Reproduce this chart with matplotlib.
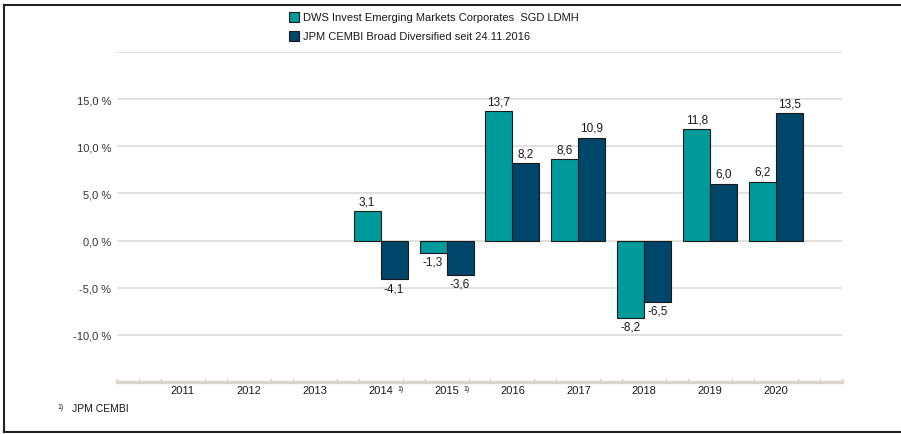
import numpy as np
import matplotlib.pyplot as plt
from matplotlib.lines import Line2D
from matplotlib.patches import Rectangle

plt.rcParams['font.family'] = ['Liberation Sans', 'DejaVu Sans']

# data
years = ['2011', '2012', '2013', '2014', '2015', '2016', '2017', '2018', '2019', '2020']
dws = [np.nan, np.nan, np.nan, 3.1, -1.3, 13.7, 8.6, -8.2, 11.8, 6.2]
jpm = [np.nan, np.nan, np.nan, -4.1, -3.6, 8.2, 10.9, -6.5, 6.0, 13.5]
footnote_years = ['2014', '2015']
series_names = ['DWS Invest Emerging Markets Corporates  SGD LDMH',
                'JPM CEMBI Broad Diversified seit 24.11.2016']

teal = '#009a9c'
navy = '#00456a'
grid_col = '#dddbd5'
axis_col = '#d9d5cc'

fig = plt.figure(figsize=(9.01, 4.35), dpi=100)
ax = fig.add_axes([117 / 901, 1 - 383 / 435, (842 - 117) / 901, (383 - 53) / 435])

x = np.arange(len(years))
w = 0.41
b1 = ax.bar(x - w / 2, dws, w, color=teal, edgecolor='#1a1a1a', linewidth=0.8, zorder=3)
b2 = ax.bar(x + w / 2, jpm, w, color=navy, edgecolor='#1a1a1a', linewidth=0.8, zorder=3)

def fmt(v):
    return f'{v:.1f}'.replace('.', ',')

for bars, vals in ((b1, dws), (b2, jpm)):
    for rect, v in zip(bars, vals):
        if np.isnan(v):
            continue
        cx = rect.get_x() + rect.get_width() / 2
        if v >= 0:
            ax.annotate(fmt(v), (cx, v), xytext=(0, 3), textcoords='offset points',
                        ha='center', va='bottom', fontsize=8.5, color='#1a1a1a')
        else:
            ax.annotate(fmt(v), (cx, v), xytext=(0, -2), textcoords='offset points',
                        ha='center', va='top', fontsize=8.5, color='#1a1a1a')

ax.set_xlim(-1, 10)
ax.set_ylim(-15, 20)

yt = np.arange(-10, 25, 5)
ax.set_yticks(yt)
ax.set_yticklabels([fmt(v) + ' %' if v < 20 else '' for v in yt], fontsize=8, color='#333333')
ax.grid(axis='y', color=grid_col, linewidth=1.2, zorder=0)
ax.tick_params(axis='y', length=0, pad=4)

ax.set_xticks(x)
ax.set_xticklabels(years, fontsize=8, color='#1a1a1a')
ax.tick_params(axis='x', which='major', length=0, pad=2)
minor = [k / 3 for k in range(-3, 31) if k % 3 != 0 or k in (-3, 30)]
ax.set_xticks(minor, minor=True)
ax.tick_params(axis='x', which='minor', direction='in', length=3, width=1, color=axis_col)

for s in ['top', 'right', 'left']:
    ax.spines[s].set_visible(False)
ax.spines['bottom'].set_color(axis_col)
ax.spines['bottom'].set_linewidth(2.5)

for fy in footnote_years:
    i = years.index(fy)
    ax.annotate('1)', (i + 0.3, -15), xytext=(0, -2), textcoords='offset points',
                ha='center', va='top', fontsize=5, color='#1a1a1a', annotation_clip=False)

# legend
for row, (name, col) in enumerate(zip(series_names, [teal, navy])):
    ycen = 1 - (18 + row * 19) / 435
    fig.patches.append(Rectangle((289 / 901, ycen - 5 / 435), 10 / 901, 10 / 435,
                                 transform=fig.transFigure, facecolor=col,
                                 edgecolor='#1a1a1a', linewidth=0.8))
    fig.text(303 / 901, ycen, name, fontsize=8, va='center', ha='left', color='#1a1a1a')

# footnote
fig.text(57 / 901, 1 - 408 / 435, '1)', fontsize=5, va='center', ha='left', color='#1a1a1a')
fig.text(72 / 901, 1 - 409 / 435, 'JPM CEMBI', fontsize=7.5, va='center', ha='left', color='#1a1a1a')

# frame
fig.lines.append(Line2D([4 / 901, 4 / 901], [1 - 433 / 435, 1 - 6 / 435], transform=fig.transFigure,
                        color='#222222', linewidth=1.5))
fig.lines.append(Line2D([4 / 901, 1], [1 - 6 / 435, 1 - 6 / 435], transform=fig.transFigure,
                        color='#222222', linewidth=1.5))
fig.lines.append(Line2D([4 / 901, 1], [1 - 433 / 435, 1 - 433 / 435], transform=fig.transFigure,
                        color='#222222', linewidth=1.5))

fig.savefig('out.png', dpi=100)
